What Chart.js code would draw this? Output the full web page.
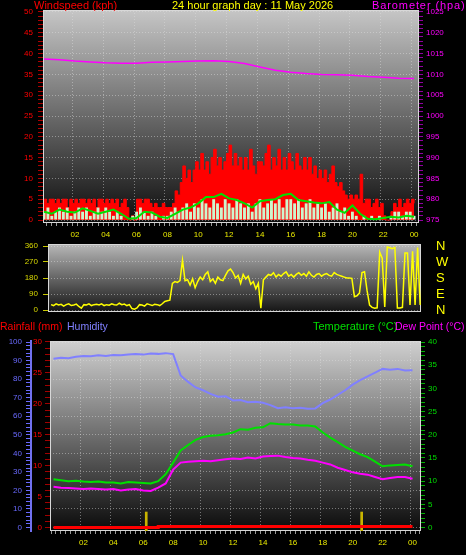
<!DOCTYPE html>
<html>
<head>
<meta charset="utf-8">
<script src="https://cdn.jsdelivr.net/npm/chart.js@4.4.1/dist/chart.umd.min.js"></script>
<style>
  body { margin: 0; background: #000; width: 466px; height: 555px; overflow: hidden; position: relative;
         font-family: 'Liberation Sans', Arial, sans-serif; }
  canvas { position: absolute; left: 0; }
  .lbl { position: absolute; font-size: 11px; line-height: 13px; white-space: nowrap; z-index: 5; }
</style>
</head>
<body>
<canvas id="windChart" width="466" height="245" style="top:0"></canvas>
<canvas id="dirChart" width="466" height="92" style="top:230px"></canvas>
<canvas id="tempChart" width="466" height="221" style="top:334px"></canvas>

<div class="lbl" style="left:34px;top:-1px;color:#ff0000">Windspeed (kph)</div>
<div class="lbl" style="left:172px;top:-1px;color:#ffff00">24 hour graph day : 11 May 2026</div>
<div class="lbl" style="left:372px;top:-1px;color:#ff00ff;letter-spacing:0.9px">Barometer (hpa)</div>
<div class="lbl" style="left:0;top:320px;color:#ff0000;font-size:10.5px">Rainfall (mm)</div>
<div class="lbl" style="left:67px;top:320px;color:#8080ff;font-size:10.5px">Humidity</div>
<div class="lbl" style="left:313px;top:320px;color:#00e000">Temperature (°C)</div>
<div class="lbl" style="left:395px;top:320px;color:#ff00ff;font-size:10.5px">Dew Point (°C)</div>

<script>
// ---------- data ----------
// x axis labels (hours)
const hourTicks  = [2, 4, 6, 8, 10, 12, 14, 16, 18, 20, 22, 24];
const hourLabels = ['02', '04', '06', '08', '10', '12', '14', '16', '18', '20', '22', '00'];

// wind gust kph, every 10 minutes
const windGust = [
  5,4,5,5,4,5,  4,5,5,3,5,4,  5,4,5,5,4,5,  4,5,3,5,5,4,
  5,4,5,4,5,3,  4,5,3,0,1,0,  5,5,4,5,5,4,  3,4,3,3,4,3,
  3,3,4,7,6,9,  13,10,12,9,12,14,  12,16,12,14,11,15,  17,13,15,12,14,16,
  18,13,16,13,15,12,  15,12,17,13,11,14,  14,13,16,18,12,15,  13,17,12,15,12,16,
  14,12,16,13,12,15,  12,15,11,13,10,12,  10,12,9,11,13,9,  8,9,7,6,5,6,
  5,6,5,11,4,5,  5,3,4,5,3,4,  1,0,0,2,4,3,  5,3,4,5,4,5,  4
];
// wind speed kph, every 15 minutes
const windSpeed = [
  2,3,1,2, 3,2,3,1, 2,3,2,3, 1,2,3,2, 3,2,1,2, 1,0,0,1,
  2,3,2,1, 2,1,0,1, 1,2,3,2, 3,4,2,4, 3,5,4,3, 5,4,3,5,
  4,3,5,4, 3,4,2,4, 5,3,4,5, 4,5,3,5, 5,4,5,3, 4,5,3,4,
  3,4,2,3, 4,2,3,1, 2,1,0,1, 0,1,0,1, 0,0,1,2, 2,1,2,2, 1
];
// average wind kph, every 30 minutes
const windAvg = [
  2.0,1.5,2.5,2.0,1.8,2.8,2.2,1.5,2.0,2.5,1.5,0.3,0.5,2.0,1.8,0.8,
  0.5,1.5,2.5,3.0,4.0,5.5,5.5,6.3,5.2,4.8,4.0,3.0,4.5,4.8,5.0,6.0,
  6.3,4.8,4.5,4.2,4.0,4.3,2.5,1.7,3.5,1.5,0.3,0.2,0.5,0.8,0.6,1.0,0.8
];
// barometer hPa, hourly
const barometer = [
  1013.7,1013.5,1013.2,1013.0,1012.8,1012.7,1012.7,1012.9,1013.0,1013.1,1013.2,1013.3,
  1013.1,1012.6,1011.8,1011.0,1010.5,1010.2,1010.0,1009.9,1009.8,1009.5,1009.3,1009.1,1009.0
];
// wind direction degrees, every 10 minutes
const windDir = [
  30,25,35,28,32,22,  30,35,25,28,33,20,  10,30,28,35,25,30,  32,28,35,25,30,27,
  35,30,28,38,30,33,  25,30,8,5,12,30,  28,22,35,30,25,32,  30,25,35,48,52,55,
  150,160,155,165,280,165,  170,140,175,125,160,185,  170,200,215,160,175,150,  185,170,165,195,220,230,
  210,180,195,150,200,175,  190,145,160,120,150,10,  170,185,200,195,210,185,  200,190,205,215,190,200,
  185,200,210,195,205,190,  215,195,185,200,205,190,  200,205,195,190,210,200,  195,190,185,180,180,178,
  75,80,95,210,215,110,  28,15,10,12,326,292,  17,354,350,345,352,11,  11,15,320,320,28,330,
  28,351,28
];
const compassLabels = ['N', 'E', 'S', 'W', 'N'];   // 0, 90, 180, 270, 360

// humidity %, temperature and dew point C, every 30 minutes
const humidity = [
  91,91.5,91.3,92,92.5,92.3,92.8,92.5,93,92.8,93.3,93.5,93.2,93.8,93.6,94,
  93.5,82,78.5,75.5,74,72,70.5,70.8,68.5,68.7,67.5,67.8,67.2,66,64.3,64.8,
  64.3,64.6,64,64.2,67,69,71.5,74,77,79.5,81.5,83.5,85.5,85,85.5,84.6,84.8
];
const temperature = [
  10.4,10.2,10.0,10.1,9.9,9.8,9.9,9.7,9.7,9.5,9.8,9.7,9.6,9.5,10.0,11.5,
  14.0,16.6,17.8,18.9,19.5,19.8,19.9,20.1,20.5,21.2,21.1,21.5,21.6,22.5,22.3,22.2,
  22.2,22.0,22.0,21.8,20.5,19.4,18.4,17.4,16.6,15.8,15.2,14.2,13.2,13.4,13.5,13.6,13.2
];
const dewPoint = [
  8.8,8.6,8.5,8.4,8.3,8.4,8.3,8.2,8.3,8.0,8.2,8.3,8.0,7.9,8.6,9.5,
  12.5,14.0,14.2,14.3,14.4,14.3,14.5,14.7,14.9,14.8,15.1,14.9,15.3,15.4,15.5,15.2,
  15.0,14.9,14.6,14.4,14.0,13.6,12.9,12.4,11.9,11.6,11.4,10.9,10.4,10.7,10.9,10.9,10.5
];
// rainfall mm, hourly
const rainfall = [0,0,0,0,0,0,0,0.15,0.15,0.15,0.15,0.15,0.15,0.15,0.15,0.15,0.15,0.15,0.15,0.15,0.15,0.15,0.15,0.15,0.15];
// yellow markers (hours)
const sunMarks = [6.2, 20.6];

// ---------- helpers ----------
const pts = (vals, step) => vals.map((v, i) => ({ x: i * step, y: v }));

function tickRange(min, max, step) {
  const out = [];
  for (let i = Math.ceil(min / step - 1e-6); i * step <= max + 1e-6; i++) out.push({ value: i * step });
  return out;
}
const hourIndex = v => hourTicks.indexOf(Math.round(v * 3) / 3);
const gridCol = 'rgba(225,225,225,0.45)';

Chart.defaults.font.family = "'Liberation Sans', Arial, sans-serif";
Chart.defaults.font.size = 8;
Chart.defaults.animation = false;
Chart.defaults.plugins.legend.display = false;
Chart.defaults.plugins.tooltip.enabled = false;
Chart.defaults.elements.point.radius = 0;

// grey fade behind the plot + light frame
const plotBack = {
  id: 'plotBack',
  beforeDraw(chart, args, opts) {
    const { ctx, chartArea: a } = chart;
    const g = ctx.createLinearGradient(0, a.top, 0, a.bottom);
    g.addColorStop(0, opts.top);
    g.addColorStop(1, opts.bottom);
    ctx.save();
    ctx.fillStyle = g;
    ctx.fillRect(a.left, a.top, a.width, a.height);
    ctx.restore();
  },
  beforeDatasetsDraw(chart, args, opts) {
    const { ctx, chartArea: a } = chart;
    ctx.save();
    ctx.strokeStyle = '#d8d8d8';
    ctx.lineWidth = 1;
    ctx.strokeRect(a.left + 0.5, a.top + 0.5, a.width - 1, a.height - 1);
    ctx.restore();
  }
};

// fixed axis size, and no extra room asked for the end labels
function fixSize(s, size) {
  if (s.isHorizontal()) s.height = size; else s.width = size;
  s.paddingTop = s.paddingBottom = s.paddingLeft = s.paddingRight = 0;
}

function hourAxis(min, max, height) {
  return {
    type: 'linear', min: min, max: max,
    afterBuildTicks: s => { s.ticks = tickRange(s.min, s.max, 1 / 3); },
    afterFit: s => fixSize(s, height),
    ticks: { color: '#e8e800', autoSkip: false, maxRotation: 0, padding: 4,
             callback: v => { const i = hourIndex(v); return i < 0 ? '' : hourLabels[i]; } },
    grid: { color: c => (c.tick && hourIndex(c.tick.value) >= 0) ? gridCol : 'transparent',
            tickColor: '#9a9a9a', tickLength: 3, tickBorderDash: [] },
    border: { display: false, dash: [1, 2] }
  };
}

// value axis: tick every `step`, label every `every`
function valueAxis(o) {
  return {
    position: o.position, weight: o.weight || 0, min: o.min, max: o.max,
    afterBuildTicks: s => { s.ticks = tickRange(s.min, s.max, o.step); },
    afterFit: s => fixSize(s, o.width),
    ticks: { color: o.color, autoSkip: false, padding: o.padding,
             callback: v => (Math.round(v / o.step) % Math.round(o.every / o.step) === 0) ? v : '' },
    grid: { drawOnChartArea: !!o.gridEvery,
            color: c => (o.gridEvery && c.tick && Math.round(c.tick.value) % o.gridEvery === 0) ? gridCol : 'transparent',
            tickColor: o.tickColor, tickLength: o.tickLength, tickBorderDash: [] },
    border: o.border || { display: false, dash: [1, 2] }
  };
}

// ---------- wind + barometer ----------
new Chart(document.getElementById('windChart').getContext('2d'), {
  type: 'line',
  data: {
    datasets: [
      { label: 'Barometer', data: pts(barometer, 1), yAxisID: 'baro', borderColor: '#ff00ff', borderWidth: 1.5, order: 1 },
      { label: 'Average', data: pts(windAvg, 0.5), yAxisID: 'wind', borderColor: '#00e000', borderWidth: 2, order: 2 },
      { type: 'bar', label: 'Speed', data: pts(windSpeed, 0.25), yAxisID: 'wind', backgroundColor: '#cdf5cd',
        barPercentage: 0.75, categoryPercentage: 1, order: 3 },
      { label: 'Gust', data: pts(windGust, 1 / 6), yAxisID: 'wind', stepped: true, borderColor: '#ff0000',
        backgroundColor: '#ff0000', borderWidth: 1, fill: 'origin', order: 4 }
    ]
  },
  options: {
    responsive: false,
    layout: { padding: { top: 10, left: 0, right: 0, bottom: 0 } },
    plugins: { plotBack: { top: '#c6c6c6', bottom: '#0c0c0c' } },
    scales: {
      x: hourAxis(0.1, 24.15, 22),
      wind: valueAxis({ position: 'left', min: -0.72, max: 50.48, step: 1, every: 5, width: 43, gridEvery: 5,
                        color: '#ff0000', tickColor: '#b00000', tickLength: 5, padding: 5 }),
      baro: valueAxis({ position: 'right', min: 974.28, max: 1025.48, step: 1, every: 5, width: 47,
                        color: '#ff00ff', tickColor: '#9000a0', tickLength: 4, padding: 3 })
    }
  },
  plugins: [plotBack]
});

// ---------- wind direction ----------
new Chart(document.getElementById('dirChart').getContext('2d'), {
  type: 'line',
  data: {
    datasets: [
      { label: 'Direction', data: pts(windDir, 1 / 6), yAxisID: 'dir', borderColor: '#ffff00', borderWidth: 1.5 }
    ]
  },
  options: {
    responsive: false,
    layout: { padding: { top: 14, left: 0, right: 0, bottom: 10 } },
    plugins: { plotBack: { top: '#b8b8b8', bottom: '#141414' } },
    scales: {
      x: { type: 'linear', display: false, min: -0.2, max: 24.39 },
      dir: valueAxis({ position: 'left', min: -11.25, max: 371.25, step: 90, every: 90, width: 48, gridEvery: 90,
                       color: '#d8d800', tickColor: '#c8c800', tickLength: 5, padding: 5 }),
      compass: {
        position: 'right', min: -11.25, max: 371.25,
        afterBuildTicks: s => { s.ticks = tickRange(0, 360, 90); },
        afterFit: s => fixSize(s, 45),
        ticks: { color: '#ffff00', font: { size: 13 }, padding: 0, autoSkip: false,
                 callback: v => compassLabels[Math.round(v / 90)] },
        grid: { drawOnChartArea: false, drawTicks: true, tickLength: 15, tickColor: 'transparent' },
        border: { display: false }
      }
    }
  },
  plugins: [plotBack]
});

// ---------- rain, humidity, temperature, dew point ----------
new Chart(document.getElementById('tempChart').getContext('2d'), {
  type: 'line',
  data: {
    datasets: [
      { label: 'Rainfall', data: pts(rainfall, 1), yAxisID: 'rain', stepped: true, borderColor: '#ff0000', borderWidth: 3, order: 1 },
      { label: 'Humidity', data: pts(humidity, 0.5), yAxisID: 'hum', borderColor: '#8080ff', borderWidth: 2, order: 2 },
      { label: 'Temperature', data: pts(temperature, 0.5), yAxisID: 'temp', borderColor: '#00e000', borderWidth: 2, order: 3 },
      { label: 'Dew Point', data: pts(dewPoint, 0.5), yAxisID: 'temp', borderColor: '#ff00ff', borderWidth: 2, order: 4 },
      { type: 'bar', label: 'Marks', data: sunMarks.map(h => ({ x: h, y: [-0.6, 2.5] })), yAxisID: 'rain',
        backgroundColor: '#c8b400', barThickness: 2, order: 5 }
    ]
  },
  options: {
    responsive: false,
    layout: { padding: { top: 7, left: 0, right: 0, bottom: 0 } },
    plugins: { plotBack: { top: '#d0d0d0', bottom: '#0a0a0a' } },
    scales: {
      x: hourAxis(-0.066, 24.4, 24),
      hum: valueAxis({ position: 'left', weight: 1, min: -1.89, max: 100.54, step: 2, every: 10, width: 31,
                       color: '#6a6aff', tickColor: '#6a6aff', tickLength: 5, padding: 4,
                       border: { display: true, color: '#7070f0', width: 2 } }),
      rain: valueAxis({ position: 'left', weight: 0, min: -0.57, max: 30.16, step: 1, every: 5, width: 19,
                        color: '#ff0000', tickColor: '#a00000', tickLength: 5, padding: 3 }),
      temp: valueAxis({ position: 'right', min: -0.75, max: 40.22, step: 1, every: 5, width: 45, gridEvery: 4,
                        color: '#00dd00', tickColor: '#00b000', tickLength: 4, padding: 3 })
    }
  },
  plugins: [plotBack]
});
</script>
</body>
</html>
